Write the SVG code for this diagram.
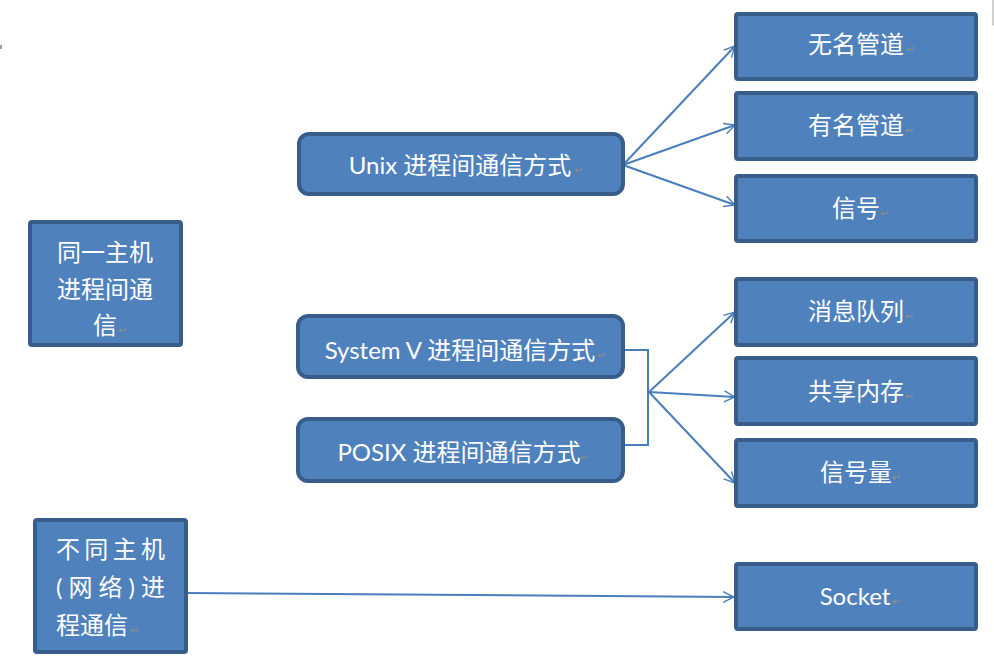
<svg xmlns="http://www.w3.org/2000/svg" width="994" height="664" viewBox="0 0 994 664">
  <style>
    .box { fill: #4F81BD; stroke: #385D8A; stroke-width: 4; }
    .lbl { fill: #FFFFFF; font-family: Lato, "Noto Sans CJK SC", sans-serif; font-size: 24px; }
    .mid { text-anchor: middle; }
    .pm { fill: #8C8C8C; font-family: "Noto Sans CJK SC", sans-serif; font-size: 11px; }
    .wire { fill: none; stroke: #4A7EBB; stroke-width: 2; }
  </style>
  <defs>
    <marker id="open-arrow" viewBox="0 0 12 12" refX="11" refY="6" markerWidth="13" markerHeight="13" markerUnits="userSpaceOnUse" orient="auto">
      <path d="M1,1 L11,6 L1,11" fill="none" stroke="#4A7EBB" stroke-width="1.3"/>
    </marker>
  </defs>
  <rect width="994" height="664" fill="#FFFFFF"/>

  <!-- page edge marks -->
  <line x1="1" y1="45" x2="1" y2="49" stroke="#808080" stroke-width="1.5"/>
  <polyline points="993,0 993,25 994,25" fill="none" stroke="#A0A0A0" stroke-width="1"/>

  <g id="connectors">
    <line class="wire" x1="623" y1="165" x2="735" y2="46" marker-end="url(#open-arrow)"/>
    <line class="wire" x1="623" y1="165" x2="735" y2="125" marker-end="url(#open-arrow)"/>
    <line class="wire" x1="623" y1="165" x2="735" y2="205" marker-end="url(#open-arrow)"/>
    <polyline class="wire" points="624,350 648,350 648,445 624,445"/>
    <line class="wire" x1="649" y1="392" x2="735" y2="312" marker-end="url(#open-arrow)"/>
    <line class="wire" x1="649" y1="392" x2="735" y2="397" marker-end="url(#open-arrow)"/>
    <line class="wire" x1="649" y1="392" x2="735" y2="483" marker-end="url(#open-arrow)"/>
    <line class="wire" x1="188" y1="593" x2="734" y2="597" marker-end="url(#open-arrow)"/>
  </g>

  <g id="same-host">
    <rect class="box" x="30" y="222" width="151" height="123" rx="2"/>
    <text class="lbl mid" x="105" y="261">同一主机</text>
    <text class="lbl mid" x="105" y="298">进程间通</text>
    <text class="lbl mid" x="105" y="334">信</text>
    <text class="pm" x="118" y="334">↵</text>
  </g>

  <g id="diff-host">
    <rect class="box" x="35" y="520" width="151" height="132" rx="2"/>
    <text class="lbl" x="56" y="558" textLength="109" lengthAdjust="spacing">不同主机</text>
    <text class="lbl" x="56" y="596" textLength="109" lengthAdjust="spacing">(网络)进</text>
    <text class="lbl" x="56" y="634">程通信</text>
    <text class="pm" x="130" y="634">↵</text>
  </g>

  <g id="unix-ipc">
    <rect class="box" x="299" y="134" width="324" height="60" rx="10"/>
    <text class="lbl mid" x="460" y="174">Unix 进程间通信方式</text>
    <text class="pm" x="574" y="174">↵</text>
  </g>

  <g id="sysv-ipc">
    <rect class="box" x="298" y="316" width="325" height="61" rx="10"/>
    <text class="lbl mid" x="460" y="359">System V 进程间通信方式</text>
    <text class="pm" x="597" y="359">↵</text>
  </g>

  <g id="posix-ipc">
    <rect class="box" x="298" y="419" width="325" height="62" rx="10"/>
    <text class="lbl mid" x="459" y="461">POSIX 进程间通信方式</text>
    <text class="pm" x="580" y="461">↵</text>
  </g>

  <g id="anon-pipe">
    <rect class="box" x="736" y="14" width="240" height="65" rx="2"/>
    <text class="lbl mid" x="856" y="53">无名管道</text>
    <text class="pm" x="906" y="53">↵</text>
  </g>

  <g id="named-pipe">
    <rect class="box" x="736" y="93" width="240" height="66" rx="2"/>
    <text class="lbl mid" x="856" y="134">有名管道</text>
    <text class="pm" x="905" y="134">↵</text>
  </g>

  <g id="signal">
    <rect class="box" x="736" y="176" width="240" height="65" rx="2"/>
    <text class="lbl mid" x="856" y="217">信号</text>
    <text class="pm" x="880" y="217">↵</text>
  </g>

  <g id="msg-queue">
    <rect class="box" x="736" y="279" width="240" height="66" rx="2"/>
    <text class="lbl mid" x="856" y="320">消息队列</text>
    <text class="pm" x="905" y="320">↵</text>
  </g>

  <g id="shm">
    <rect class="box" x="736" y="358" width="240" height="66" rx="2"/>
    <text class="lbl mid" x="856" y="400">共享内存</text>
    <text class="pm" x="905" y="400">↵</text>
  </g>

  <g id="semaphore">
    <rect class="box" x="736" y="440" width="240" height="66" rx="2"/>
    <text class="lbl mid" x="856" y="481">信号量</text>
    <text class="pm" x="892" y="481">↵</text>
  </g>

  <g id="socket">
    <rect class="box" x="736" y="564" width="240" height="65" rx="2"/>
    <text class="lbl mid" x="855" y="605">Socket</text>
    <text class="pm" x="892" y="605">↵</text>
  </g>
</svg>
